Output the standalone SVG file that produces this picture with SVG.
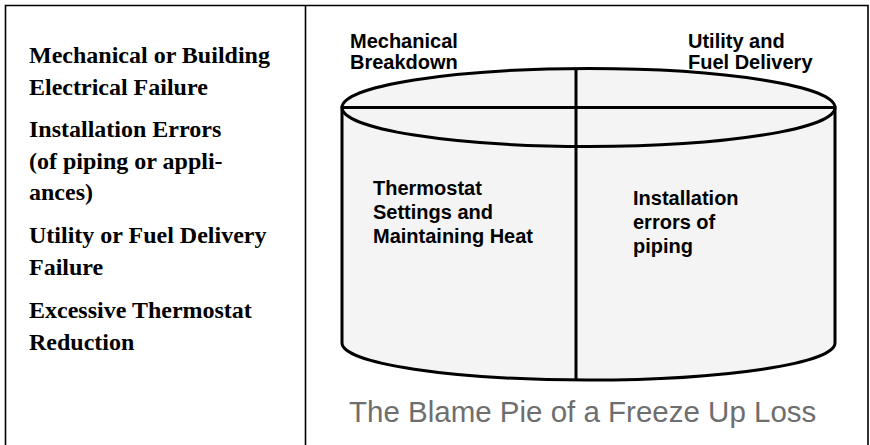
<svg xmlns="http://www.w3.org/2000/svg" width="870" height="445" viewBox="0 0 870 445">
  <style>
    .frame { fill: none; stroke: #000; stroke-width: 1.6; }
    .cyl { fill: #f4f4f4; stroke: #000; stroke-width: 3; }
    .edge { fill: none; stroke: #000; stroke-width: 3; }
    .cause { font-family: "Liberation Serif", "Times New Roman", serif; font-weight: bold; font-size: 24px; fill: #000; }
    .slice { font-family: "Liberation Sans", Arial, sans-serif; font-weight: bold; font-size: 20px; fill: #000; }
    .title { font-family: "Liberation Sans", Arial, sans-serif; font-size: 29.5px; fill: #6e6e6e; }
  </style>

  <!-- outer frame: two open-bottomed panels -->
  <g id="frame">
    <path class="frame" d="M5.5 445 V5.5 H868 V445 M305.5 5.5 V445"/>
  </g>

  <!-- list of loss causes -->
  <g id="causes">
    <text class="cause" x="29" y="63">Mechanical or Building</text>
    <text class="cause" x="29" y="95">Electrical Failure</text>
    <text class="cause" x="29" y="137">Installation Errors</text>
    <text class="cause" x="29" y="169">(of piping or appli-</text>
    <text class="cause" x="29" y="200">ances)</text>
    <text class="cause" x="29" y="243">Utility or Fuel Delivery</text>
    <text class="cause" x="29" y="275">Failure</text>
    <text class="cause" x="29" y="318">Excessive Thermostat</text>
    <text class="cause" x="29" y="350">Reduction</text>
  </g>

  <!-- cylinder (the pie) -->
  <g id="pie">
    <path class="cyl" d="M342 107.5 V343 A246.5 37 0 0 0 835 343 V107.5 Z"/>
    <ellipse class="cyl" cx="588.5" cy="107.5" rx="246.5" ry="39"/>
  </g>

  <!-- slice dividers -->
  <g id="connectors">
    <line class="edge" x1="342" y1="107.5" x2="835" y2="107.5"/>
    <line class="edge" x1="576" y1="68.5" x2="576" y2="380"/>
  </g>

  <g id="label-mechanical">
    <text class="slice" x="350" y="48">Mechanical</text>
    <text class="slice" x="350" y="69">Breakdown</text>
  </g>
  <g id="label-utility">
    <text class="slice" x="688" y="48">Utility and</text>
    <text class="slice" x="688" y="69">Fuel Delivery</text>
  </g>
  <g id="label-thermostat">
    <text class="slice" x="373" y="195">Thermostat</text>
    <text class="slice" x="373" y="219">Settings and</text>
    <text class="slice" x="373" y="243">Maintaining Heat</text>
  </g>
  <g id="label-installation">
    <text class="slice" x="633" y="205">Installation</text>
    <text class="slice" x="633" y="229">errors of</text>
    <text class="slice" x="633" y="253">piping</text>
  </g>

  <g id="title">
    <text class="title" x="349" y="422">The Blame Pie of a Freeze Up Loss</text>
  </g>
</svg>
